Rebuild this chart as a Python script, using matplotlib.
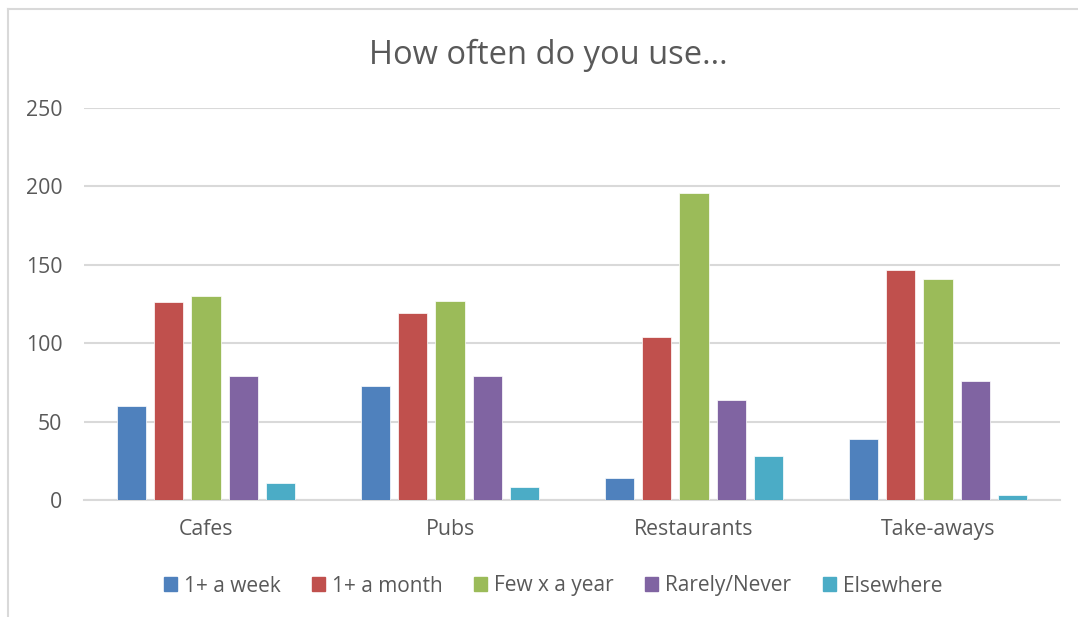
import matplotlib
matplotlib.use("Agg")
import matplotlib.pyplot as plt
import numpy as np
from matplotlib.lines import Line2D
from matplotlib.patches import Patch

categories = ["Cafes", "Pubs", "Restaurants", "Take-aways"]
series_names = ["1+ a week", "1+ a month", "Few x a year", "Rarely/Never", "Elsewhere"]
week = [60, 73, 14, 39]
month = [126, 119, 104, 147]
few_year = [130, 127, 196, 141]
rarely = [79, 79, 64, 76]
elsewhere = [11, 8, 28, 3]
yticks = [0, 50, 100, 150, 200, 250]

colors = ["#4F81BD", "#C0504D", "#9BBB59", "#8064A2", "#4BACC6"]
series = [week, month, few_year, rarely, elsewhere]

plt.rcParams['font.family'] = ['Open Sans', 'DejaVu Sans']

W, H = 1078, 617
fig = plt.figure(figsize=(W / 100, H / 100), dpi=100)
ax = fig.add_axes([84 / W, 1 - 500 / H, (1060 - 84) / W, (500 - 108) / H])

x = np.arange(len(categories))
step = 0.1535
bw = 0.119
for i, (vals, c) in enumerate(zip(series, colors)):
    ax.bar(x + (i - 2) * step, vals, width=bw, color=c, edgecolor="white",
           linewidth=0.5, zorder=3, label=series_names[i])

ax.set_xlim(-0.5, len(categories) - 0.5)
ax.set_ylim(0, 250)
ax.set_yticks(yticks)
ax.set_yticklabels([str(v) for v in yticks])
ax.set_xticks(x)
ax.set_xticklabels(categories)
ax.tick_params(axis='both', length=0, labelsize=15.3, labelcolor="#595959")
ax.tick_params(axis='y', pad=15.5)
ax.tick_params(axis='x', pad=14)
ax.grid(axis='y', color="#D9D9D9", linewidth=1.5, zorder=0)
for s in ["top", "right", "left"]:
    ax.spines[s].set_visible(False)
ax.spines["bottom"].set_color("#D9D9D9")
ax.spines["bottom"].set_linewidth(1.5)

fig.text(548 / W, 1 - 55 / H, "How often do you use...", ha="center", va="center",
         fontsize=23.5, color="#595959")

handles = [Patch(facecolor=c, edgecolor=c) for c in colors]
leg = fig.legend(handles, series_names, loc="center", bbox_to_anchor=(553 / W, 1 - 586 / H),
                 ncol=5, frameon=False, fontsize=15, handlelength=0.62, handleheight=0.62,
                 handletextpad=0.33, columnspacing=1.52)
for t in leg.get_texts():
    t.set_color("#595959")

# outer chart border (left and top visible)
fig.add_artist(Line2D([8 / W, 8 / W], [0, 1 - 9 / H], transform=fig.transFigure,
                      color="#D9D9D9", linewidth=1.5))
fig.add_artist(Line2D([8 / W, 1], [1 - 9 / H, 1 - 9 / H], transform=fig.transFigure,
                      color="#D9D9D9", linewidth=1.5))

fig.savefig("out.png", dpi=100)
